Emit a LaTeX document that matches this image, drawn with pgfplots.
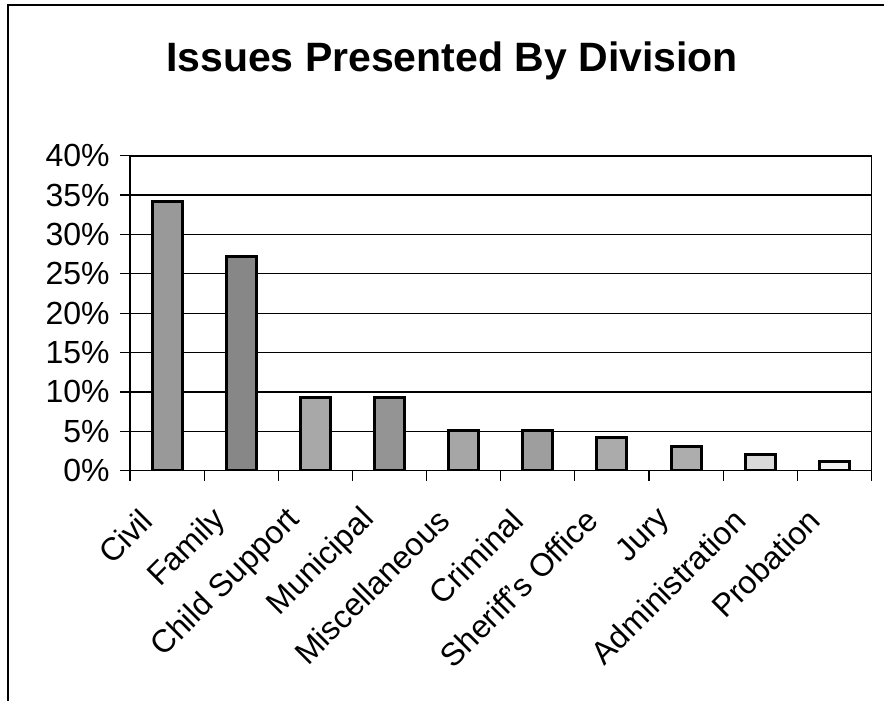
\documentclass[border=0pt]{standalone}
\usepackage{pgfplots}
\pgfplotsset{compat=1.18}
\usepackage{fontspec}
\setmainfont{Liberation Sans}
\begin{document}
\begin{tikzpicture}
\begin{axis}[
 at={(65pt,115.15pt)}, anchor=south west,
 scale only axis, width=370.75pt, height=157.5pt,
 xmin=-0.5, xmax=9.5, ymin=0, ymax=40,
 ytick={0,5,...,40},
 yticklabels={0\%,5\%,10\%,15\%,20\%,25\%,30\%,35\%,40\%},
 xtick={0,...,9},
 xticklabels={Civil,Family,Child Support,Municipal,Miscellaneous,Criminal,Sheriff's Office,Jury,Administration,Probation},
 minor xtick={-0.5,0.5,...,9.5},
 xtick pos=bottom, ytick pos=left,
 tick align=outside,
 major tick length=5pt, minor tick length=5pt,
 major x tick style={draw=none},
 minor x tick style={black, line width=0.6pt},
 major y tick style={black, line width=0.6pt},
 ymajorgrids, major grid style={black, line width=0.6pt},
 axis line style={black, line width=0.8pt},
 tick label style={font=\fontsize{16}{19}\selectfont},
 xticklabel style={xshift=-10pt, yshift=-17pt, rotate=45, anchor=east, inner sep=0pt},
 yticklabel style={inner sep=0pt, xshift=-5pt},
]
\addplot[ybar, bar width=15pt, bar shift=0pt, draw=black, line width=1.5pt, fill=black!40] coordinates {(0,34.2)};
\addplot[ybar, bar width=15pt, bar shift=0pt, draw=black, line width=1.5pt, fill=black!47] coordinates {(1,27.2)};
\addplot[ybar, bar width=15pt, bar shift=0pt, draw=black, line width=1.5pt, fill=black!34] coordinates {(2,9.3)};
\addplot[ybar, bar width=15pt, bar shift=0pt, draw=black, line width=1.5pt, fill=black!42] coordinates {(3,9.3)};
\addplot[ybar, bar width=15pt, bar shift=0pt, draw=black, line width=1.5pt, fill=black!35] coordinates {(4,5.1)};
\addplot[ybar, bar width=15pt, bar shift=0pt, draw=black, line width=1.5pt, fill=black!38] coordinates {(5,5.1)};
\addplot[ybar, bar width=15pt, bar shift=0pt, draw=black, line width=1.5pt, fill=black!33] coordinates {(6,4.2)};
\addplot[ybar, bar width=15pt, bar shift=0pt, draw=black, line width=1.5pt, fill=black!32] coordinates {(7,3.1)};
\addplot[ybar, bar width=15pt, bar shift=0pt, draw=black, line width=1.5pt, fill=black!15] coordinates {(8,2.0)};
\addplot[ybar, bar width=15pt, bar shift=0pt, draw=black, line width=1.5pt, fill=black!5] coordinates {(9,1.2)};
\end{axis}
\node[anchor=base, inner sep=0pt, font=\fontsize{20.5}{24}\selectfont\bfseries] at (226pt,314.5pt) {Issues Presented By Division};
\draw[line width=0.7pt] (4pt,0pt) -- (4pt,348pt) -- (442pt,348pt);
\pgfresetboundingbox
\path[use as bounding box] (0pt,0pt) rectangle (442pt,350.5pt);
\end{tikzpicture}
\end{document}
